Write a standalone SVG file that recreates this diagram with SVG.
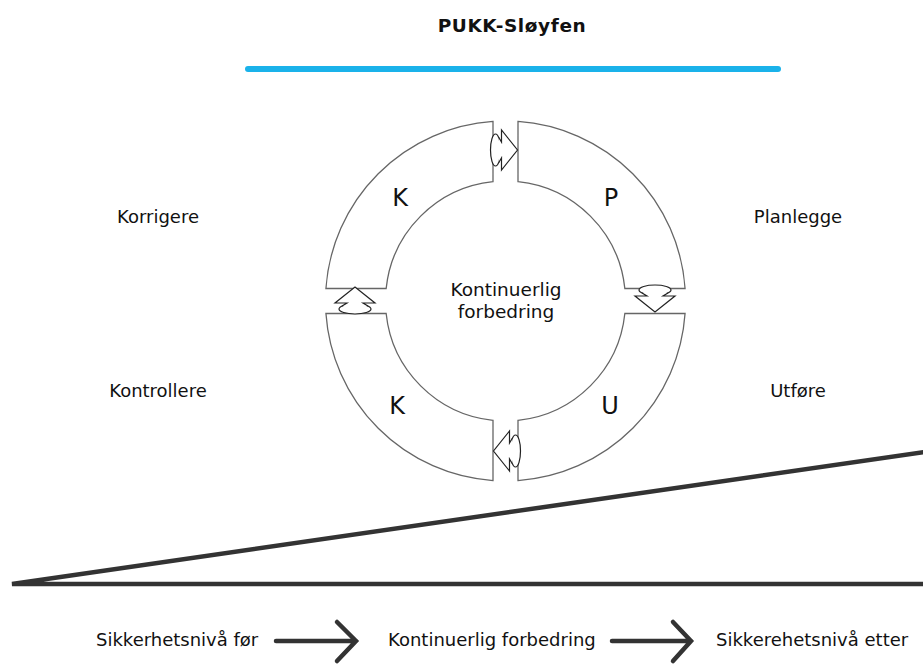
<svg xmlns="http://www.w3.org/2000/svg" width="923" height="666" viewBox="0 0 923 666">
<style>
.lbl{font-family:"DejaVu Sans","Liberation Sans",sans-serif;font-size:18px;fill:#111}
.big{font-family:"DejaVu Sans","Liberation Sans",sans-serif;font-size:24px;fill:#111}
.seg{fill:#fff;stroke:#666;stroke-width:1.3}
.arr{fill:#fff;stroke:#222;stroke-width:1.2;stroke-linejoin:miter}
.thick{stroke:#333;stroke-width:4.5;fill:none;stroke-linecap:round}
</style>
<defs>
<g id="cyc">
<ellipse class="arr" cx="0" cy="-10" rx="16" ry="5"/>
<path class="arr" d="M -13,-7 L -8,-4 L -20,-4 L 0,12 L 20,-4 L 8,-4 L 13,-7"/>
</g>
</defs>
<rect width="923" height="666" fill="#fff"/>
<g id="title">
<text x="512" y="32" text-anchor="middle" class="lbl" style="font-weight:bold;font-size:18.5px;letter-spacing:0.6px">PUKK-Sløyfen</text>
<line x1="248" y1="69" x2="778" y2="69" stroke="#1ab2ea" stroke-width="6" stroke-linecap="round"/>
</g>
<g id="seg-k-top">
<path class="seg" d="M 493,121.43 L 493,181.65 A120 120 0 0 0 386.15,288.5 L 325.93,288.5 A180 180 0 0 1 493,121.43 Z"/>
<text x="400" y="206" text-anchor="middle" class="big">K</text>
</g>
<g id="seg-p">
<path class="seg" d="M 518,121.43 A180 180 0 0 1 685.07,288.5 L 624.85,288.5 A120 120 0 0 0 518,181.65 Z"/>
<text x="611" y="206" text-anchor="middle" class="big">P</text>
</g>
<g id="seg-u">
<path class="seg" d="M 685.07,313.5 A180 180 0 0 1 518,480.57 L 518,420.35 A120 120 0 0 0 624.85,313.5 Z"/>
<text x="610" y="414" text-anchor="middle" class="big">U</text>
</g>
<g id="seg-k-bottom">
<path class="seg" d="M 493,480.57 A180 180 0 0 1 325.93,313.5 L 386.15,313.5 A120 120 0 0 0 493,420.35 Z"/>
<text x="397" y="414" text-anchor="middle" class="big">K</text>
</g>
<g id="center">
<text x="506" y="296" text-anchor="middle" class="lbl" style="font-size:18.5px">Kontinuerlig</text>
<text x="506" y="318" text-anchor="middle" class="lbl" style="font-size:18.5px">forbedring</text>
</g>
<g id="labels">
<text x="158" y="223" text-anchor="middle" class="lbl">Korrigere</text>
<text x="798" y="223" text-anchor="middle" class="lbl">Planlegge</text>
<text x="158" y="397" text-anchor="middle" class="lbl">Kontrollere</text>
<text x="798" y="397" text-anchor="middle" class="lbl">Utføre</text>
</g>
<g id="connectors">
<use href="#cyc" transform="translate(505.5,150) rotate(-90)"/>
<use href="#cyc" transform="translate(655,300)"/>
<use href="#cyc" transform="translate(505.5,451) rotate(90)"/>
<use href="#cyc" transform="translate(355,299) rotate(180)"/>
</g>
<g id="wedge">
<polyline class="thick" points="925,452 12,584 925,584"/>
</g>
<g id="bottom">
<text x="96" y="646" class="lbl">Sikkerhetsnivå før</text>
<path class="thick" d="M 276,641 L 356,641 M 337,622 L 356,641 L 337,661"/>
<text x="388" y="646" class="lbl">Kontinuerlig forbedring</text>
<path class="thick" d="M 612,641 L 691,641 M 673,622 L 691,641 L 673,661"/>
<text x="716" y="646" class="lbl">Sikkerehetsnivå etter</text>
</g>
</svg>
